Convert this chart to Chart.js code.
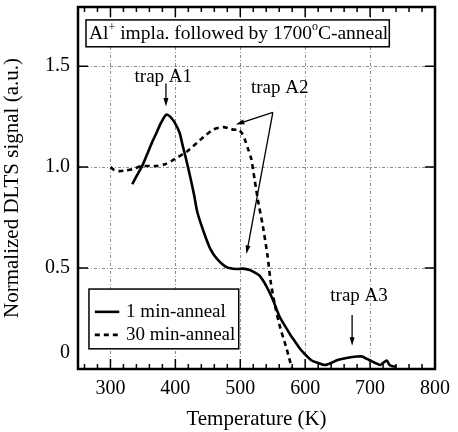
<!DOCTYPE html>
<html>
<head>
<meta charset="utf-8">
<script src="https://cdn.jsdelivr.net/npm/chart.js@4"></script>
<style>
  html, body { margin: 0; padding: 0; background: #fff; }
  #wrap { width: 458px; height: 432px; }
</style>
</head>
<body>
<div id="wrap"><canvas id="dlts"></canvas></div>
<script>
// 1 min-anneal (solid)
const tempShort = [333.6, 341, 348.7, 356, 363.8, 371, 378, 386, 392, 399, 406.5, 411, 416.5, 423, 429, 434, 444, 454, 464.5, 479.6, 494.6, 504, 514.6, 522, 529.7, 539.7, 549.8, 559.9, 570, 578, 585, 592, 600, 610, 620, 630, 640, 650, 660, 670, 680, 688, 695, 700.6, 708, 715.6, 720, 725.6, 730, 735, 740];
const signalShort = [0.915, 0.96, 1.005, 1.06, 1.12, 1.17, 1.22, 1.26, 1.25, 1.22, 1.17, 1.11, 1.04, 0.95, 0.86, 0.775, 0.676, 0.594, 0.544, 0.503, 0.495, 0.497, 0.49, 0.478, 0.462, 0.413, 0.347, 0.264, 0.207, 0.165, 0.133, 0.1, 0.072, 0.042, 0.03, 0.02, 0.03, 0.045, 0.052, 0.058, 0.062, 0.062, 0.05, 0.042, 0.03, 0.02, 0.03, 0.042, 0.02, 0.014, 0.012];

// 30 min-anneal (dashed)
const tempLong = [300, 306, 313.6, 323, 333.6, 348.7, 368.9, 384, 399, 419, 439, 459, 474, 484, 491, 497, 502, 507, 512, 517, 522, 527, 534.7, 542, 547, 554.6, 562, 570, 577, 580];
const signalLong = [1.0, 0.985, 0.98, 0.983, 0.99, 1.005, 1.005, 1.014, 1.04, 1.08, 1.137, 1.187, 1.198, 1.19, 1.185, 1.187, 1.17, 1.137, 1.09, 1.04, 0.94, 0.84, 0.709, 0.561, 0.429, 0.297, 0.199, 0.116, 0.034, 0.0];

const seriesNames = ['1 min-anneal', '30 min-anneal'];
const xTicks = [300, 400, 500, 600, 700, 800];
const yTicks = [0, 0.5, 1.0, 1.5];
const yTickLabels = ['0', '0.5', '1.0', '1.5'];

const SERIF = '"Liberation Serif", "DejaVu Serif", serif';

function toPoints(xs, ys) {
    return xs.map((v, i) => ({ x: v, y: ys[i] }));
}

function arrow(ctx, x1, y1, x2, y2) {
    const ang = Math.atan2(y2 - y1, x2 - x1);
    const head = 9;
    ctx.beginPath();
    ctx.moveTo(x1, y1);
    ctx.lineTo(x2 - Math.cos(ang) * head * 0.6, y2 - Math.sin(ang) * head * 0.6);
    ctx.stroke();
    ctx.beginPath();
    ctx.moveTo(x2, y2);
    ctx.lineTo(x2 - head * Math.cos(ang - 0.28), y2 - head * Math.sin(ang - 0.28));
    ctx.lineTo(x2 - head * Math.cos(ang + 0.28), y2 - head * Math.sin(ang + 0.28));
    ctx.closePath();
    ctx.fill();
}

// frame, inner ticks, y labels, title box, legend and trap labels
const decorPlugin = {
    id: 'decor',
    afterDatasetsDraw(chart) {
        const { ctx, chartArea: a, scales: { x, y } } = chart;
        ctx.save();
        ctx.strokeStyle = '#000';
        ctx.fillStyle = '#000';

        // minor / major ticks on bottom and top
        ctx.lineWidth = 1.5;
        for (let t = 260; t < 800; t += 20) {
            const px = x.getPixelForValue(t);
            const len = t % 100 === 0 ? 10 : 5;
            ctx.beginPath();
            ctx.moveTo(px, a.bottom); ctx.lineTo(px, a.bottom - len);
            ctx.moveTo(px, a.top); ctx.lineTo(px, a.top + len);
            ctx.stroke();
        }
        yTicks.forEach(v => {
            const py = y.getPixelForValue(v);
            ctx.beginPath();
            ctx.moveTo(a.left, py); ctx.lineTo(a.left + 10, py);
            ctx.moveTo(a.right, py); ctx.lineTo(a.right - 10, py);
            ctx.stroke();
        });

        // frame
        ctx.lineWidth = 2.5;
        ctx.strokeRect(a.left, a.top, a.right - a.left, a.bottom - a.top);

        // y tick labels (the "0" sits a bit above the axis, as in the original)
        ctx.font = '20px ' + SERIF;
        ctx.textAlign = 'right';
        ctx.textBaseline = 'middle';
        yTicks.forEach((v, i) => {
            const shift = v === 0 ? -16 : 0;
            ctx.fillText(yTickLabels[i], a.left - 8, y.getPixelForValue(v) + shift);
        });

        // title box
        const bx1 = x.getPixelForValue(262.3), bx2 = x.getPixelForValue(729.6);
        const by1 = y.getPixelForValue(1.729), by2 = y.getPixelForValue(1.596);
        ctx.fillStyle = '#fff';
        ctx.fillRect(bx1, by1, bx2 - bx1, by2 - by1);
        ctx.fillStyle = '#000';
        ctx.lineWidth = 1.5;
        ctx.strokeRect(bx1, by1, bx2 - bx1, by2 - by1);
        const parts = [
            ['Al', 19.5, 0], ['+', 12, -7], [' impla. followed by 1700', 19.5, 0],
            ['o', 12, -8], ['C-anneal', 19.5, 0]
        ];
        let total = 0;
        parts.forEach(p => { ctx.font = p[1] + 'px ' + SERIF; total += ctx.measureText(p[0]).width; });
        let cx = (bx1 + bx2) / 2 - total / 2 + 1;
        const cy = (by1 + by2) / 2 + 1;
        ctx.textAlign = 'left';
        parts.forEach(p => {
            ctx.font = p[1] + 'px ' + SERIF;
            ctx.fillText(p[0], cx, cy + p[2]);
            cx += ctx.measureText(p[0]).width;
        });

        // legend
        const lx1 = x.getPixelForValue(266.9), lx2 = x.getPixelForValue(497.6);
        const ly1 = y.getPixelForValue(0.396), ly2 = y.getPixelForValue(0.100);
        ctx.fillStyle = '#fff';
        ctx.fillRect(lx1, ly1, lx2 - lx1, ly2 - ly1);
        ctx.fillStyle = '#000';
        ctx.lineWidth = 1.5;
        ctx.strokeRect(lx1, ly1, lx2 - lx1, ly2 - ly1);
        const rowY = [0.283, 0.169];
        chart.data.datasets.forEach((ds, i) => {
            const py = y.getPixelForValue(rowY[i]);
            ctx.save();
            ctx.lineWidth = ds.borderWidth;
            ctx.setLineDash(ds.borderDash || []);
            ctx.beginPath();
            ctx.moveTo(x.getPixelForValue(275.9), py);
            ctx.lineTo(x.getPixelForValue(313.6), py);
            ctx.stroke();
            ctx.restore();
            ctx.font = '19px ' + SERIF;
            ctx.textAlign = 'left';
            ctx.fillText(ds.label, x.getPixelForValue(324.1), py);
        });

        // trap annotations
        ctx.font = '19px ' + SERIF;
        ctx.textAlign = 'center';
        ctx.lineWidth = 1.3;
        ctx.fillText('trap A1', x.getPixelForValue(381.4), y.getPixelForValue(1.444));
        arrow(ctx, x.getPixelForValue(385.5), y.getPixelForValue(1.414), x.getPixelForValue(385.5), y.getPixelForValue(1.30));
        ctx.fillText('trap A2', x.getPixelForValue(560.8), y.getPixelForValue(1.394));
        const ox = x.getPixelForValue(550.2), oy = y.getPixelForValue(1.271);
        arrow(ctx, ox, oy, x.getPixelForValue(493), y.getPixelForValue(1.211));
        arrow(ctx, ox, oy, x.getPixelForValue(509.5), y.getPixelForValue(0.569));
        ctx.fillText('trap A3', x.getPixelForValue(683), y.getPixelForValue(0.362));
        arrow(ctx, x.getPixelForValue(672.3), y.getPixelForValue(0.268), x.getPixelForValue(672.3), y.getPixelForValue(0.115));

        ctx.restore();
    }
};

new Chart(document.getElementById('dlts'), {
    type: 'scatter',
    data: {
        datasets: [{
            label: seriesNames[0],
            data: toPoints(tempShort, signalShort),
            showLine: true,
            borderColor: '#000',
            borderWidth: 2.6,
            pointRadius: 0,
            tension: 0.25
        }, {
            label: seriesNames[1],
            data: toPoints(tempLong, signalLong),
            showLine: true,
            borderColor: '#000',
            borderWidth: 2.6,
            borderDash: [5, 4],
            pointRadius: 0,
            tension: 0.25
        }]
    },
    options: {
        responsive: true,
        maintainAspectRatio: false,
        animation: false,
        layout: { padding: { top: 7, right: 15, left: 0, bottom: 0 } },
        plugins: {
            legend: { display: false },
            tooltip: { enabled: false }
        },
        scales: {
            x: {
                type: 'linear',
                min: 250,
                max: 800,
                afterBuildTicks: s => { s.ticks = xTicks.map(v => ({ value: v })); },
                afterFit: s => { s.height = 63; },
                grid: { color: '#8a8a8a', lineWidth: 1, drawTicks: false },
                border: { display: false, dash: [3, 2, 1, 2] },
                ticks: {
                    color: '#000',
                    padding: 8,
                    font: { family: SERIF, size: 20 },
                    maxRotation: 0
                },
                title: {
                    display: true,
                    text: 'Temperature (K)',
                    color: '#000',
                    font: { family: SERIF, size: 21 },
                    padding: { top: 2, bottom: 0 }
                }
            },
            y: {
                type: 'linear',
                min: 0,
                max: 1.793,
                afterBuildTicks: s => { s.ticks = yTicks.map(v => ({ value: v })); },
                afterFit: s => { s.width = 78; },
                grid: { color: '#8a8a8a', lineWidth: 1, drawTicks: false },
                border: { display: false, dash: [3, 2, 1, 2] },
                ticks: { display: false },
                title: {
                    display: true,
                    text: 'Normalized DLTS signal (a.u.)',
                    color: '#000',
                    font: { family: SERIF, size: 21 },
                    padding: { top: 0, bottom: 0 }
                }
            }
        }
    },
    plugins: [decorPlugin]
});
</script>
</body>
</html>
